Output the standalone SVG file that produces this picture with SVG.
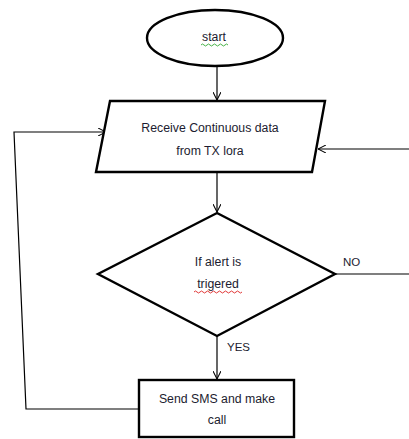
<svg xmlns="http://www.w3.org/2000/svg" width="409" height="439" viewBox="0 0 409 439">
<defs>
<style>
.shape{fill:#fff;stroke:#000;stroke-width:2.4}
.conn{fill:none;stroke:#000;stroke-width:1.2}
.t{font-family:"Liberation Sans",Arial,sans-serif;font-size:12.3px;fill:#1c1c30;text-anchor:middle}
.lbl{font-family:"Liberation Sans",Arial,sans-serif;font-size:11.5px;fill:#1c1c30}
.sq{fill:none;stroke-width:0.9}
</style>
<marker id="arr" viewBox="0 0 10 10" refX="10" refY="5" markerWidth="8" markerHeight="8" orient="auto" markerUnits="userSpaceOnUse">
<path d="M0,0 L10,5 L0,10" fill="none" stroke="#000" stroke-width="1.3"/>
</marker>
</defs>
<rect width="409" height="439" fill="#fff"/>
<g id="connectors">
<path class="conn" d="M217,66 V100" marker-end="url(#arr)"/>
<path class="conn" d="M217,172 V212" marker-end="url(#arr)"/>
<path class="conn" d="M217,336 V379" marker-end="url(#arr)"/>
<path class="conn" d="M335,274 H409"/>
<path class="conn" d="M409,149 H318" marker-end="url(#arr)"/>
<path class="conn" d="M139,409 H26 L14,132 H106" marker-end="url(#arr)"/>
<text class="lbl" x="343" y="266">NO</text>
<text class="lbl" x="227" y="351">YES</text>
</g>
<g id="start">
<ellipse class="shape" cx="215" cy="38" rx="68" ry="28"/>
<text class="t" x="214" y="41">start</text>
<path class="sq" stroke="#3a3" d="M201,45 q1.5,-2 3,0 t3,0 t3,0 t3,0 t3,0 t3,0 t3,0 t3,0 t3,0"/>
</g>
<g id="receive">
<polygon class="shape" points="110,101 325,101 312,172 96,172"/>
<text class="t" x="210" y="132">Receive Continuous data</text>
<text class="t" x="210" y="155">from TX lora</text>
</g>
<g id="decision">
<polygon class="shape" points="217,213 335,274 217,336 98,274"/>
<text class="t" x="218" y="266">If alert is</text>
<text class="t" x="218" y="288">trigered</text>
<path class="sq" stroke="#d22" d="M194,292 q1.5,-2 3,0 t3,0 t3,0 t3,0 t3,0 t3,0 t3,0 t3,0 t3,0 t3,0 t3,0 t3,0 t3,0 t3,0 t3,0 t3,0"/>
</g>
<g id="send">
<rect class="shape" x="139" y="380" width="155" height="57"/>
<text class="t" x="217" y="403">Send SMS and make</text>
<text class="t" x="217" y="424">call</text>
</g>
</svg>
